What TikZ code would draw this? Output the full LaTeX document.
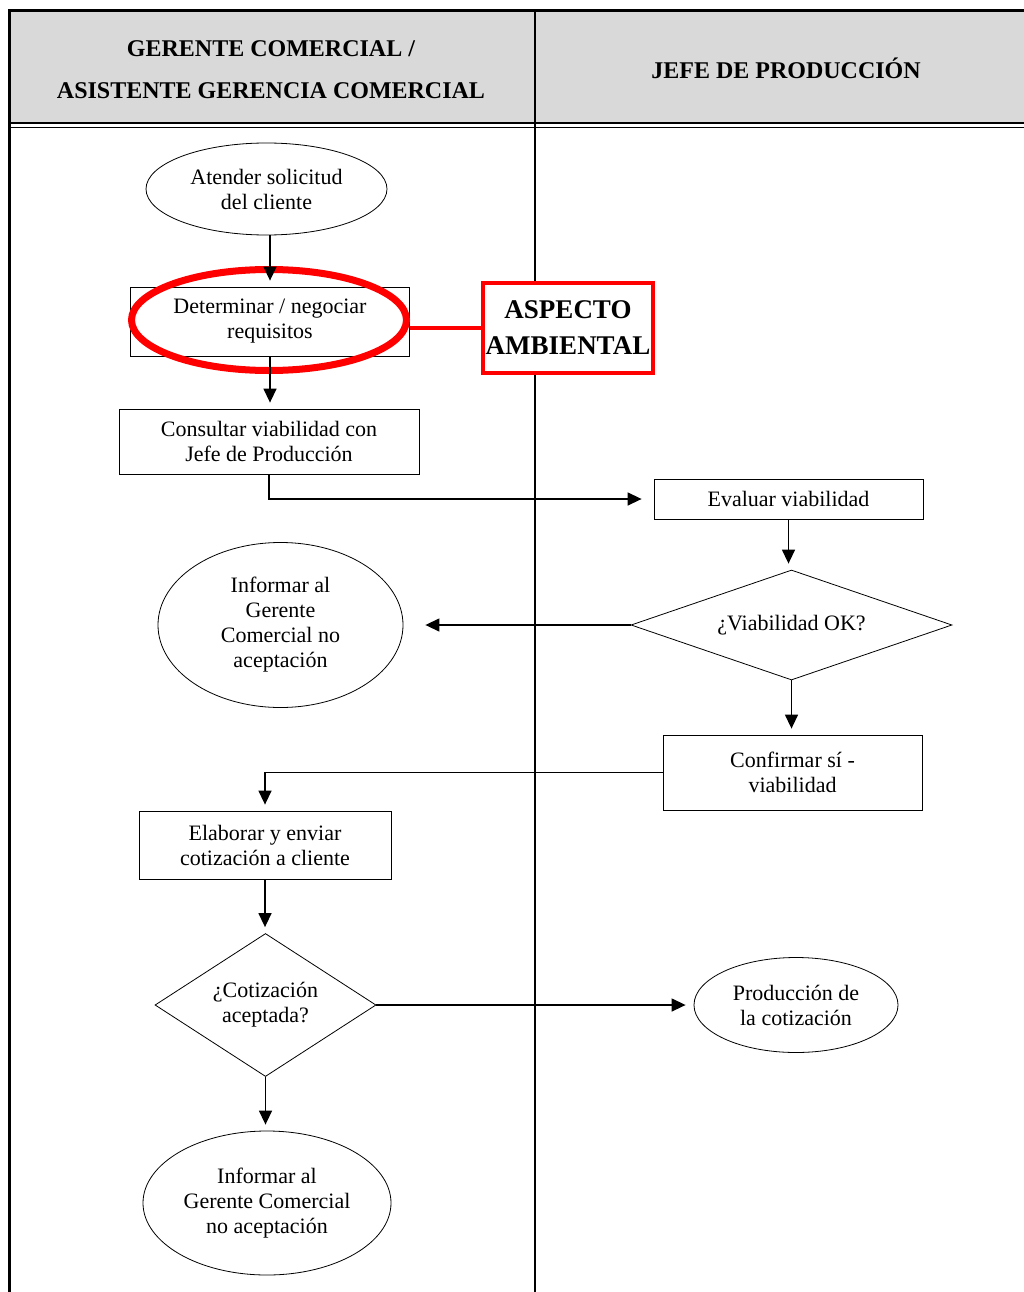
\documentclass[tikz,border=0pt]{standalone}
\usepackage{fontspec}
\setmainfont{Liberation Serif}
\usetikzlibrary{positioning,shapes.geometric,arrows.meta}
\definecolor{cabecera}{RGB}{217,217,217}
\definecolor{rojo}{RGB}{255,0,0}

\begin{document}
\begin{tikzpicture}[x=1pt,y=-1pt,
  caja/.style={draw, line width=0.8pt, inner sep=0pt, align=center, font=\fontsize{22}{25}\selectfont},
  elipse/.style={caja, ellipse},
  rombo/.style={caja, diamond},
  cabeza/.style={align=center, font=\fontsize{24}{42}\selectfont\bfseries},
  flecha/.style={line width=1.4pt, -{Triangle[length=14pt,width=13pt]}, shorten >=6pt}]
\useasboundingbox (0,0) rectangle (1024,1292);
\fill[cabecera] (9,11) rectangle (1024,123);
\draw[line width=3pt] (1024,11) -- (9.5,11) -- (9.5,1292);
\draw[line width=2pt] (9.5,123) -- (1024,123);
\draw[line width=1.5pt] (9.5,127.5) -- (1024,127.5);
\draw[line width=2pt] (535,11) -- (535,1292);
\node[cabeza] (col1) at (271,70) {GERENTE COMERCIAL /\\ASISTENTE GERENCIA COMERCIAL};
\node[cabeza] (col2) at (786,68) {JEFE DE PRODUCCIÓN};

\node[elipse, minimum width=241pt, minimum height=92pt] (atender) at (266.5,189) {Atender solicitud\\del cliente};
\node[caja, minimum width=279pt, minimum height=69pt] (determinar) at (270,321.5) {Determinar / negociar\\requisitos};
\node[draw=rojo, line width=7pt, ellipse, minimum width=275pt, minimum height=101pt] (resalte) at (269,320) {};
\node[draw=rojo, fill=white, line width=4pt, minimum width=170pt, minimum height=90pt, inner sep=0pt, align=center, font=\fontsize{27}{36}\selectfont\bfseries] (aspecto) at (568,328) {ASPECTO\\AMBIENTAL};
\node[caja, minimum width=300pt, minimum height=65pt] (consultar) at (269,441.5) {Consultar viabilidad con\\Jefe de Producción};
\node[caja, minimum width=269pt, minimum height=40pt] (evaluar) at (788.5,499) {Evaluar viabilidad};
\node[rombo, shape aspect=2.9, minimum width=321pt, minimum height=110pt] (viable) at (791.5,625) {¿Viabilidad OK?};
\node[elipse, minimum width=245pt, minimum height=165pt] (noacepta1) at (280.5,625) {Informar al\\Gerente\\Comercial no\\aceptación};
\node[caja, minimum width=259pt, minimum height=75pt] (confirmar) at (792.5,772.5) {Confirmar sí -\\viabilidad};
\node[caja, minimum width=252pt, minimum height=68pt] (elaborar) at (265,845) {Elaborar y enviar\\cotización a cliente};
\node[rombo, shape aspect=1.55, minimum width=221pt, minimum height=143pt] (aceptada) at (265.5,1005) {¿Cotización\\aceptada?};
\node[elipse, minimum width=204pt, minimum height=95pt] (produccion) at (796,1005) {Producción de\\la cotización};
\node[elipse, minimum width=248pt, minimum height=144pt] (noacepta2) at (267,1203) {Informar al\\Gerente Comercial\\no aceptación};

\draw[flecha] (atender.south -| determinar.north) -- (determinar.north);
\draw[rojo, line width=4pt] (aspecto.west) -- (resalte.east |- aspecto.west);
\draw[flecha] (determinar.south) -- (determinar.south |- consultar.north);
\draw[flecha, shorten >=12pt] (consultar.south) |- (evaluar.west);
\draw[flecha] (evaluar.south) -- (evaluar.south |- viable.north);
\draw[flecha, shorten >=22pt] (viable.west) -- (noacepta1.east);
\draw[flecha] (viable.south) -- (viable.south |- confirmar.north);
\draw[flecha] (confirmar.west) -| (elaborar.north);
\draw[flecha] (elaborar.south) -- (elaborar.south |- aceptada.north);
\draw[flecha, shorten >=8pt] (aceptada.east) -- (produccion.west);
\draw[flecha] (aceptada.south) -- (aceptada.south |- noacepta2.north);
\end{tikzpicture}
\end{document}
